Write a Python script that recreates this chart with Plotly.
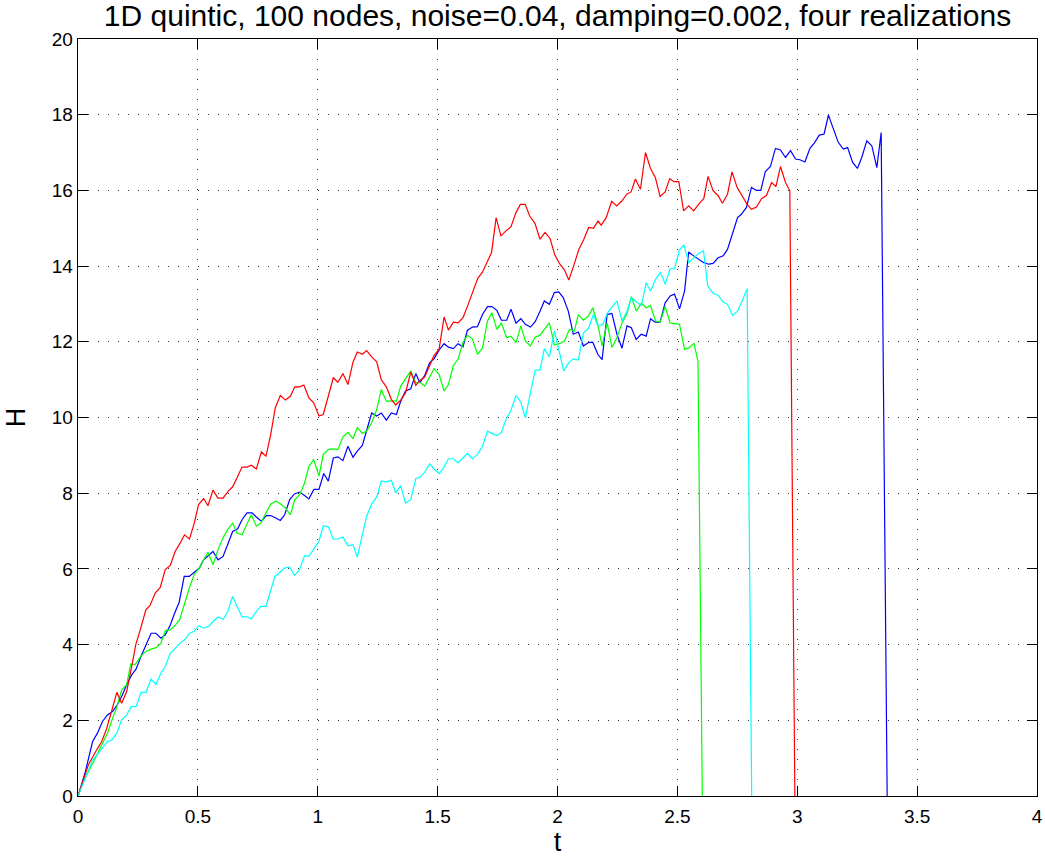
import plotly.graph_objects as go

# ---------------- data ----------------
blue_t = [0, 0.029, 0.061, 0.081, 0.102, 0.123, 0.144, 0.164, 0.185, 0.203,
          0.224, 0.242, 0.263, 0.284, 0.305, 0.325, 0.346, 0.364, 0.385, 0.403,
          0.422, 0.443, 0.464, 0.485, 0.506, 0.524, 0.545, 0.563, 0.584, 0.605,
          0.624, 0.645, 0.666, 0.684, 0.705, 0.726, 0.744, 0.765, 0.786, 0.803,
          0.823, 0.844, 0.862, 0.883, 0.903, 0.924, 0.945, 0.963, 0.984, 1.005,
          1.025, 1.044, 1.065, 1.084, 1.105, 1.126, 1.147, 1.165, 1.186, 1.204,
          1.225, 1.246, 1.265, 1.286, 1.307, 1.328, 1.346, 1.366, 1.388, 1.409,
          1.426, 1.446, 1.467, 1.485, 1.506, 1.527, 1.545, 1.566, 1.585, 1.606,
          1.624, 1.645, 1.666, 1.687, 1.708, 1.726, 1.747, 1.766, 1.788, 1.806,
          1.827, 1.847, 1.866, 1.887, 1.907, 1.927, 1.945, 1.966, 1.987, 2.005,
          2.024, 2.045, 2.066, 2.087, 2.108, 2.129, 2.147, 2.168, 2.186, 2.207,
          2.227, 2.248, 2.269, 2.29, 2.308, 2.328, 2.349, 2.37, 2.388, 2.407,
          2.428, 2.449, 2.47, 2.488, 2.509, 2.53, 2.547, 2.568, 2.589, 2.61,
          2.631, 2.649, 2.67, 2.691, 2.709, 2.73, 2.751, 2.767, 2.788, 2.809,
          2.83, 2.848, 2.867, 2.888, 2.909, 2.93, 2.951, 2.972, 2.993, 3.011,
          3.032, 3.053, 3.071, 3.092, 3.112, 3.13, 3.15, 3.171, 3.192, 3.21,
          3.231, 3.251, 3.269, 3.29, 3.311, 3.332, 3.35, 3.375]
blue_H = [0, 0.6, 1.44, 1.66, 1.97, 2.14, 2.23, 2.41, 2.67, 2.94,
          3.2, 3.35, 3.69, 3.99, 4.3, 4.3, 4.17, 4.26, 4.52, 4.83,
          5.12, 5.8, 5.8, 5.91, 6.02, 6.24, 6.36, 6.46, 6.24, 6.33,
          6.64, 6.99, 7.06, 7.3, 7.48, 7.48, 7.37, 7.26, 7.41, 7.41,
          7.35, 7.28, 7.43, 7.83, 7.98, 8.03, 7.94, 7.85, 8.1, 8.1,
          8.52, 8.32, 8.93, 8.96, 8.86, 9.24, 8.95, 9.11, 9.26, 9.68,
          10.12, 10.04, 10.12, 9.93, 10.12, 10.08, 10.43, 10.7, 10.76, 11.16,
          10.92, 11.11, 11.45, 11.55, 11.78, 11.95, 11.86, 11.82, 11.95, 11.87,
          12.3, 12.39, 12.4, 12.72, 12.93, 12.93, 12.83, 12.57, 12.57, 12.86,
          12.49, 12.61, 12.46, 12.39, 12.53, 12.81, 13.08, 12.99, 13.3, 13.32,
          13.17, 12.81, 12.2, 12.26, 11.89, 11.98, 11.99, 11.67, 11.53, 12.72,
          12.75, 12.2, 11.83, 12.42, 12.37, 12.06, 12.2, 12.15, 12.61, 12.52,
          12.52, 13.03, 13.21, 13.26, 12.87, 13.34, 14.37, 14.27, 14.18, 14.09,
          14.05, 14.07, 14.22, 14.27, 14.44, 14.84, 15.28, 15.37, 15.55, 16.08,
          16.0, 16.0, 16.5, 16.63, 17.11, 17.07, 16.87, 17.05, 16.83, 16.81,
          16.75, 17.11, 17.25, 17.46, 17.49, 17.99, 17.62, 17.27, 17.09, 17.13,
          16.74, 16.58, 16.87, 17.31, 17.18, 16.6, 17.53, 0]

green_t = [0, 0.029, 0.061, 0.092, 0.123, 0.144, 0.162, 0.182, 0.203, 0.22,
           0.238, 0.262, 0.283, 0.305, 0.326, 0.346, 0.364, 0.385, 0.405, 0.424,
           0.444, 0.464, 0.485, 0.506, 0.524, 0.542, 0.563, 0.584, 0.605, 0.624,
           0.645, 0.663, 0.684, 0.705, 0.723, 0.744, 0.763, 0.784, 0.805, 0.826,
           0.844, 0.865, 0.886, 0.904, 0.925, 0.945, 0.963, 0.983, 1.005, 1.023,
           1.044, 1.065, 1.084, 1.105, 1.126, 1.147, 1.165, 1.186, 1.204, 1.225,
           1.246, 1.265, 1.286, 1.307, 1.328, 1.346, 1.366, 1.388, 1.409, 1.426,
           1.446, 1.467, 1.485, 1.506, 1.527, 1.545, 1.566, 1.585, 1.606, 1.624,
           1.645, 1.666, 1.687, 1.708, 1.726, 1.747, 1.766, 1.788, 1.806, 1.827,
           1.847, 1.866, 1.887, 1.907, 1.927, 1.945, 1.966, 1.987, 2.008, 2.029,
           2.05, 2.07, 2.087, 2.108, 2.129, 2.147, 2.168, 2.186, 2.207, 2.227,
           2.248, 2.269, 2.29, 2.308, 2.329, 2.35, 2.37, 2.388, 2.409, 2.428,
           2.449, 2.47, 2.488, 2.509, 2.53, 2.548, 2.569, 2.586, 2.604]
green_H = [0, 0.47, 0.86, 1.26, 1.66, 2.05, 2.35, 2.8, 2.94, 3.49,
           3.47, 3.69, 3.82, 3.88, 3.92, 4.04, 4.37, 4.39, 4.51, 4.66,
           5.08, 5.49, 5.86, 6.02, 6.24, 6.44, 6.11, 6.51, 6.82, 7.04,
           7.21, 6.95, 6.9, 7.21, 7.43, 7.13, 7.21, 7.48, 7.72, 7.79,
           7.72, 7.61, 7.43, 7.83, 7.96, 8.27, 8.71, 8.89, 8.45, 9.02,
           9.15, 9.17, 9.15, 9.49, 9.61, 9.44, 9.73, 9.58, 9.64, 9.86,
           10.21, 10.74, 10.43, 10.43, 10.43, 10.83, 11.01, 11.23, 10.92, 10.93,
           10.83, 11.09, 11.29, 11.14, 10.7, 10.87, 11.38, 11.53, 11.98, 12.17,
           12.08, 11.67, 11.83, 12.55, 12.77, 12.33, 12.5, 12.11, 12.15, 11.98,
           12.42, 12.02, 11.89, 12.13, 12.17, 12.33, 12.5, 11.92, 11.95, 12.02,
           12.33, 12.28, 12.72, 12.57, 12.68, 12.9, 12.46, 11.89, 12.5, 11.85,
           12.11, 12.5, 12.75, 13.19, 12.81, 13.02, 12.9, 12.96, 12.55, 12.52,
           12.93, 12.5, 12.49, 12.46, 11.8, 11.84, 11.96, 11.49, 0]

red_t = [0, 0.043, 0.078, 0.099, 0.12, 0.14, 0.162, 0.182, 0.203, 0.224,
         0.241, 0.262, 0.283, 0.30, 0.322, 0.343, 0.364, 0.385, 0.405, 0.426,
         0.444, 0.465, 0.485, 0.503, 0.524, 0.542, 0.563, 0.584, 0.605, 0.626,
         0.645, 0.663, 0.684, 0.705, 0.723, 0.744, 0.765, 0.784, 0.803, 0.823,
         0.844, 0.865, 0.886, 0.904, 0.925, 0.942, 0.963, 0.983, 1.005, 1.023,
         1.044, 1.065, 1.084, 1.105, 1.126, 1.147, 1.165, 1.186, 1.204, 1.225,
         1.246, 1.265, 1.286, 1.307, 1.325, 1.346, 1.366, 1.388, 1.409, 1.426,
         1.446, 1.467, 1.485, 1.506, 1.527, 1.545, 1.566, 1.585, 1.606, 1.624,
         1.645, 1.667, 1.687, 1.705, 1.725, 1.744, 1.764, 1.785, 1.806, 1.826,
         1.845, 1.865, 1.885, 1.906, 1.927, 1.948, 1.969, 1.989, 2.01, 2.029,
         2.047, 2.068, 2.089, 2.11, 2.13, 2.15, 2.169, 2.182, 2.203, 2.226,
         2.247, 2.268, 2.289, 2.307, 2.325, 2.346, 2.367, 2.388, 2.408, 2.428,
         2.449, 2.468, 2.486, 2.506, 2.526, 2.547, 2.568, 2.589, 2.61, 2.628,
         2.649, 2.67, 2.688, 2.709, 2.728, 2.749, 2.77, 2.791, 2.809, 2.83,
         2.851, 2.872, 2.893, 2.911, 2.93, 2.951, 2.969, 2.99]
red_H = [0, 0.82, 1.22, 1.44, 1.79, 2.28, 2.74, 2.45, 2.76, 3.42,
         4.0, 4.44, 4.92, 5.03, 5.36, 5.51, 5.98, 6.09, 6.46, 6.68,
         6.9, 6.79, 7.21, 7.7, 7.86, 7.67, 8.08, 7.87, 7.87, 8.05,
         8.17, 8.4, 8.69, 8.69, 8.74, 8.64, 9.09, 8.98, 9.52, 10.26,
         10.58, 10.46, 10.56, 10.81, 10.81, 10.86, 10.52, 10.39, 10.04, 10.08,
         10.56, 11.05, 10.93, 11.16, 10.87, 11.46, 11.73, 11.67, 11.77, 11.6,
         11.47, 11.0, 10.81, 10.48, 10.33, 10.46, 10.65, 11.2, 10.85, 10.98,
         11.07, 11.4, 11.64, 11.8, 12.66, 12.31, 12.52, 12.5, 12.64, 12.93,
         13.3, 13.67, 13.84, 14.07, 14.36, 15.28, 14.8, 14.93, 15.04, 15.4,
         15.63, 15.63, 15.31, 15.13, 14.71, 14.89, 14.73, 14.29, 14.05, 13.9,
         13.63, 14.02, 14.44, 14.71, 15.02, 15.0, 15.19, 15.08, 15.28, 15.71,
         15.59, 15.72, 15.9, 15.96, 16.3, 16.03, 17.0, 16.58, 16.34, 15.84,
         15.96, 16.31, 16.23, 16.23, 15.46, 15.59, 15.46, 15.64, 15.78, 16.37,
         15.99, 15.86, 15.66, 15.9, 16.49, 16.08, 15.86, 15.63, 15.5, 15.56,
         15.78, 15.87, 16.21, 16.1, 16.63, 16.21, 15.99, 0]

cyan_t = [0, 0.029, 0.061, 0.085, 0.102, 0.123, 0.141, 0.162, 0.182, 0.203,
          0.222, 0.242, 0.263, 0.284, 0.304, 0.325, 0.346, 0.364, 0.385, 0.405,
          0.426, 0.447, 0.465, 0.485, 0.503, 0.524, 0.545, 0.563, 0.584, 0.605,
          0.624, 0.645, 0.663, 0.684, 0.705, 0.723, 0.744, 0.763, 0.784, 0.803,
          0.821, 0.842, 0.862, 0.882, 0.903, 0.924, 0.945, 0.963, 0.983, 1.005,
          1.023, 1.044, 1.065, 1.084, 1.105, 1.126, 1.147, 1.165, 1.186, 1.204,
          1.225, 1.246, 1.265, 1.286, 1.307, 1.325, 1.346, 1.366, 1.388, 1.409,
          1.426, 1.446, 1.467, 1.485, 1.506, 1.527, 1.545, 1.566, 1.585, 1.606,
          1.624, 1.645, 1.666, 1.687, 1.708, 1.726, 1.747, 1.766, 1.788, 1.806,
          1.827, 1.847, 1.866, 1.887, 1.907, 1.927, 1.945, 1.966, 1.987, 2.005,
          2.026, 2.047, 2.066, 2.087, 2.108, 2.129, 2.15, 2.168, 2.189, 2.209,
          2.227, 2.248, 2.269, 2.29, 2.308, 2.329, 2.35, 2.37, 2.388, 2.409,
          2.43, 2.449, 2.47, 2.488, 2.509, 2.527, 2.548, 2.569, 2.589, 2.609,
          2.627, 2.649, 2.67, 2.691, 2.709, 2.73, 2.751, 2.77, 2.791, 2.81]
cyan_H = [0, 0.47, 0.95, 1.13, 1.26, 1.44, 1.48, 1.66, 2.01, 2.14,
          2.36, 2.36, 2.74, 2.74, 3.09, 2.95, 3.25, 3.42, 3.77, 3.91,
          4.04, 4.14, 4.3, 4.35, 4.5, 4.44, 4.48, 4.61, 4.73, 4.67,
          4.86, 5.27, 5.01, 4.73, 4.73, 4.68, 4.88, 5.01, 5.01, 5.45,
          5.8, 5.91, 6.02, 6.05, 5.83, 5.98, 6.35, 6.33, 6.51, 6.73,
          7.14, 7.11, 6.79, 6.79, 6.84, 6.61, 6.64, 6.31, 6.9, 7.39,
          7.72, 7.9, 8.32, 8.3, 8.34, 8.01, 8.2, 7.74, 7.83, 8.39,
          8.42, 8.55, 8.78, 8.64, 8.52, 8.69, 8.91, 8.91, 8.8, 8.93,
          9.05, 8.91, 9.02, 9.24, 9.64, 9.58, 9.52, 9.61, 9.99, 10.19,
          10.58, 10.41, 9.99, 10.65, 11.25, 11.25, 11.82, 11.6, 12.28, 11.8,
          11.23, 11.45, 11.55, 11.52, 12.24, 12.35, 12.72, 12.43, 12.46, 12.77,
          12.9, 13.08, 12.55, 12.81, 13.17, 13.05, 12.96, 13.56, 13.34, 13.65,
          13.84, 13.52, 13.93, 13.93, 14.43, 14.56, 14.09, 14.22, 14.34, 14.4,
          13.47, 13.28, 13.23, 13.05, 12.99, 12.7, 12.81, 13.08, 13.4, 0]

x_ticks = [0, 0.5, 1, 1.5, 2, 2.5, 3, 3.5, 4]
x_tick_text = ["0", "0.5", "1", "1.5", "2", "2.5", "3", "3.5", "4"]
y_ticks = [0, 2, 4, 6, 8, 10, 12, 14, 16, 18, 20]
y_tick_text = ["0", "2", "4", "6", "8", "10", "12", "14", "16", "18", "20"]

title_text = "1D quintic, 100 nodes, noise=0.04, damping=0.002, four realizations"

# ---------------- figure ----------------
FIG_W, FIG_H = 1045, 860
FONT = "Liberation Sans, Arial, Helvetica, sans-serif"
fig = go.Figure()
series = [
    (blue_t, blue_H, "#0000ff"),
    (green_t, green_H, "#00ff00"),
    (red_t, red_H, "#ff0000"),
    (cyan_t, cyan_H, "#00ffff"),
]
for tt, hh, col in series:
    fig.add_trace(go.Scatter(x=tt, y=hh, mode="lines",
                             line=dict(color=col, width=1.2),
                             hoverinfo="skip", showlegend=False))

axis_common = dict(
    showline=True, linecolor="black", linewidth=1.3, mirror="allticks",
    ticks="inside", ticklen=10, tickcolor="black", tickwidth=1,
    showgrid=True, gridcolor="#333333", gridwidth=1, griddash="1px,9px",
    zeroline=False, tickfont=dict(family=FONT, size=19, color="black"),
)

fig.update_xaxes(range=[0, 4], tickvals=x_ticks, ticktext=x_tick_text,
                 ticklabelstandoff=3,
                 title=dict(text="t", font=dict(family=FONT, size=27, color="black"),
                            standoff=6),
                 **axis_common)
fig.update_yaxes(range=[0, 20], tickvals=y_ticks, ticktext=y_tick_text,
                 title=dict(text="H", font=dict(family=FONT, size=27, color="black"),
                            standoff=18),
                 **axis_common)

fig.update_layout(
    width=FIG_W, height=FIG_H,
    margin=dict(l=78, r=8, t=39, b=64, autoexpand=False),
    plot_bgcolor="white", paper_bgcolor="white",
    showlegend=False,
    title=dict(text=title_text, x=0.5, xref="paper", xanchor="center",
               y=1 - 15 / FIG_H, yref="container", yanchor="middle",
               font=dict(family=FONT, size=30, color="black")),
)

# remove the default 8px body margin so the figure fills the window exactly
fig.write_html("out.html",
               config={"displayModeBar": False, "staticPlot": True},
               post_script="document.body.style.margin='0';"
                           "document.body.style.overflow='hidden';")
